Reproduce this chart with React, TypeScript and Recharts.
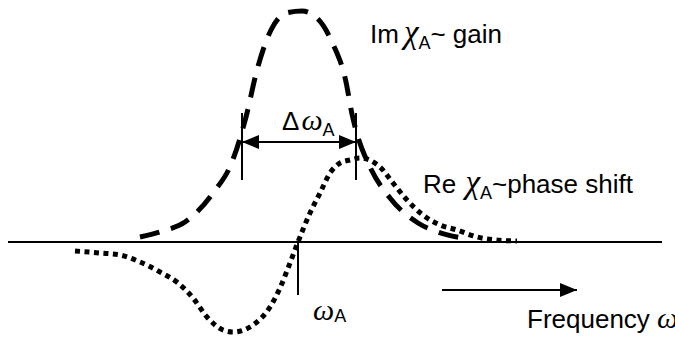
import React from "react";
import {
  LineChart,
  Line,
  XAxis,
  YAxis,
  ReferenceLine,
  ReferenceDot,
} from "recharts";

// frequency offset from the line centre (omega - omega_A), arbitrary units
const imFreq = [-158, -135, -113, -85, -66, -52, -41, -27, -12, 4, 20, 34, 48, 54, 59, 72, 92, 120, 140, 164];
// Im chi_A (gain profile)
const imGain = [5, 11, 20, 49, 80, 125, 172, 212, 229, 231, 223, 200, 160, 128, 108, 75, 44, 19, 10, 4];

const reFreq = [-223, -198, -178, -158, -138, -120, -105, -91, -75, -65, -45, -28, -18, -8, 0, 12, 22, 32, 42, 52, 62, 82, 95, 109, 125, 142, 159, 179, 199, 219];
// Re chi_A (phase shift / dispersion)
const rePhase = [-9, -11, -13, -20, -30, -41, -56, -75, -88, -90, -83, -65, -46, -21, 0, 29, 49, 69, 79, 82, 84, 75, 59, 42, 27, 17, 12, 5, 2, 1];

// half maximum points and the resonance
const fwhmLeft = -56;
const fwhmRight = 58;
const resonance = 0;

const imData = imFreq.map((f, i) => ({ f, v: imGain[i] }));
const reData = reFreq.map((f, i) => ({ f, v: rePhase[i] }));

const SANS = "'Liberation Sans', Arial, sans-serif";
const SERIF = "'Liberation Serif', 'Times New Roman', serif";

const Arrow = (props: any) => {
  const { x1, y1, x2, y2, both } = props;
  const len = 17;
  const hw = 7;
  const dir = x2 > x1 ? 1 : -1;
  return (
    <g>
      <line x1={x1} y1={y1} x2={x2} y2={y2} stroke="#000" strokeWidth={2.2} />
      <polygon
        points={`${x2},${y2} ${x2 - dir * len},${y2 - hw} ${x2 - dir * len},${y2 + hw}`}
        fill="#000"
      />
      {both && (
        <polygon
          points={`${x1},${y1} ${x1 + dir * len},${y1 - hw} ${x1 + dir * len},${y1 + hw}`}
          fill="#000"
        />
      )}
    </g>
  );
};

const symText = (pre: string, sym: string, post: string, sub = 6, symSize = 28, gap = 2) => (p: any) => (
  <text x={p.cx} y={p.cy} fontFamily={SANS} fontSize={26} fill="#000">
    {pre}
    <tspan fontFamily={SERIF} fontStyle="italic" fontSize={symSize} dx={pre ? gap : 0}>
      {sym}
    </tspan>
    <tspan fontSize={18} dy={sub}>
      A
    </tspan>
    <tspan dy={-sub}>{post}</tspan>
  </text>
);

export default function App() {
  return (
    <div style={{ position: "absolute", left: 0, top: 0, background: "#fff" }}>
      <LineChart
        width={675}
        height={341}
        margin={{ top: 0, right: 0, bottom: 0, left: 0 }}
      >
        <XAxis type="number" dataKey="f" domain={[-298, 377]} allowDataOverflow hide />
        <YAxis type="number" dataKey="v" domain={[-99, 242]} allowDataOverflow hide />

        {/* frequency axis */}
        <ReferenceLine
          segment={[{ x: -290, y: 0 }, { x: 364, y: 0 }]}
          stroke="#000"
          strokeWidth={2.2}
        />

        <Line
          data={imData}
          dataKey="v"
          type="monotone"
          stroke="#000"
          strokeWidth={5}
          strokeDasharray="20 12"
          dot={false}
          activeDot={false}
          isAnimationActive={false}
        />
        <Line
          data={reData}
          dataKey="v"
          type="monotone"
          stroke="#000"
          strokeWidth={5}
          strokeDasharray="5 4.5"
          dot={false}
          activeDot={false}
          isAnimationActive={false}
        />

        {/* linewidth markers */}
        <ReferenceLine segment={[{ x: fwhmLeft, y: 129 }, { x: fwhmLeft, y: 62 }]} stroke="#000" strokeWidth={2} />
        <ReferenceLine segment={[{ x: fwhmRight, y: 129 }, { x: fwhmRight, y: 62 }]} stroke="#000" strokeWidth={2} />
        <ReferenceLine
          segment={[{ x: fwhmLeft, y: 100 }, { x: fwhmRight, y: 100 }]}
          shape={(p: any) => <Arrow {...p} both />}
        />
        <ReferenceLine segment={[{ x: resonance, y: 0 }, { x: resonance, y: -53 }]} stroke="#000" strokeWidth={2} />

        {/* frequency direction arrow */}
        <ReferenceLine
          segment={[{ x: 144, y: -48 }, { x: 279, y: -48 }]}
          shape={(p: any) => <Arrow {...p} />}
        />

        <ReferenceDot x={72} y={199} shape={symText("Im", "χ", "~ gain", 6, 33, 5)} />
        <ReferenceDot x={125} y={49} shape={symText("Re ", "χ", "~phase shift", 6, 33)} />
        <ReferenceDot x={-16} y={112} shape={symText("Δ", "ω", "", 6, 30)} />
        <ReferenceDot x={15} y={-78} shape={symText("", "ω", "", 2, 30)} />
        <ReferenceDot
          x={229}
          y={-86}
          shape={(p: any) => (
            <text x={p.cx} y={p.cy} fontFamily={SANS} fontSize={26} fill="#000">
              Frequency{" "}
              <tspan fontFamily={SERIF} fontStyle="italic" fontSize={30}>
                ω
              </tspan>
            </text>
          )}
        />
      </LineChart>
    </div>
  );
}
